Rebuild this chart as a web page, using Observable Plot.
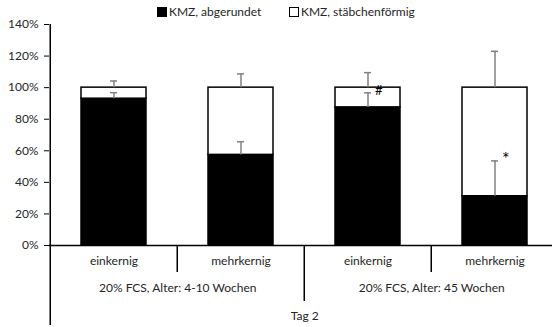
<!DOCTYPE html>
<html>
<head>
<meta charset="utf-8">
<script src="https://cdn.jsdelivr.net/npm/d3@7"></script>
<script src="https://cdn.jsdelivr.net/npm/@observablehq/plot@0.6"></script>
<style>
  body { margin: 0; background: #fff; font-family: Lato, "Open Sans", sans-serif; }
  #legend { height: 18px; position: relative; font-size: 12px; color: #262626; white-space: nowrap; }
  #legend .item { position: absolute; top: 6px; line-height: 12px; }
  #legend .sw { display: inline-block; width: 8px; height: 8px; border: 1.5px solid #000; vertical-align: -1px; margin-right: 2px; }
</style>
</head>
<body>
<div id="legend"></div>
<div id="chart"></div>
<script>
// ---- data ----
const groups = ["20% FCS, Alter: 4-10 Wochen", "20% FCS, Alter: 45 Wochen"];
const kernLabels = ["einkernig", "mehrkernig", "einkernig", "mehrkernig"];
const categories = ["g1-ein", "g1-mehr", "g2-ein", "g2-mehr"];
const categoryGroup = [0, 0, 1, 1];
const seriesNames = ["KMZ, abgerundet", "KMZ, stäbchenförmig"];
const abgerundet = [93, 57.4, 87.5, 31.2];          // black part (%)
const errAbgerundet = [3.8, 8.3, 9.2, 22.4];        // + error of black part
const errStaebchen = [4.2, 8.7, 9.5, 23];           // + error on top of 100%
const annotations = [{cat: "g2-ein", label: "#"}, {cat: "g2-mehr", label: "*"}];
const yTicks = [0, 20, 40, 60, 80, 100, 120, 140];
const xTitle = "Tag 2";

// ---- derived tables ----
const stacked = [];
categories.forEach((c, i) => {
  stacked.push({cat: c, series: seriesNames[0], y1: 0, y2: abgerundet[i]});
  stacked.push({cat: c, series: seriesNames[1], y1: abgerundet[i], y2: 100});
});
const errors = [];
categories.forEach((c, i) => {
  errors.push({cat: c, from: abgerundet[i], to: abgerundet[i] + errAbgerundet[i]});
  errors.push({cat: c, from: 100, to: 100 + errStaebchen[i]});
});
const annot = annotations.map(a => {
  const i = categories.indexOf(a.cat);
  return {cat: a.cat, y: abgerundet[i] + errAbgerundet[i], label: a.label};
});
const kernRows = categories.map((c, i) => ({cat: c, label: kernLabels[i]}));
const groupRows = groups.map((g, gi) => ({cat: categories[categoryGroup.indexOf(gi)], label: g}));
const titleRows = [{cat: categories[1], label: xTitle}];
const catBoundaries = categories.filter((c, i) => i > 0 && categoryGroup[i] === categoryGroup[i - 1]);
const groupBoundaries = categories.filter((c, i) => i > 0 && categoryGroup[i] !== categoryGroup[i - 1]);

// ---- legend ----
const legend = document.getElementById("legend");
const legendPos = [157, 289];
seriesNames.forEach((s, i) => {
  const d = document.createElement("span");
  d.className = "item";
  d.style.left = legendPos[i] + "px";
  d.innerHTML = `<span class="sw" style="background:${i === 0 ? "#000" : "#fff"}"></span>${s}`;
  legend.appendChild(d);
});

// ---- chart ----
const xOpts = {type: "band", domain: categories, range: [49, 559], paddingInner: 0.49, paddingOuter: 0.245, align: 0.5};
const xs = Plot.scale({x: xOpts});
const half = xs.step / 2;
const bw = xs.bandwidth;
const txt = "#262626";
const errColor = "#808080";

const chart = Plot.plot({
  width: 552,
  height: 309,
  marginTop: 6,
  marginBottom: 82,
  marginLeft: 49,
  marginRight: 0,
  style: {fontFamily: "Lato, 'Open Sans', sans-serif", fontSize: "12px", color: txt, overflow: "visible"},
  x: {...xOpts, axis: null},
  y: {domain: [0, 140], axis: null},
  marks: [
    Plot.barY(stacked, {x: "cat", y1: "y1", y2: "y2", fill: d => d.series === seriesNames[0] ? "#000" : "#fff", stroke: "#000", strokeWidth: 1.5}),
    Plot.ruleX(errors, {x: "cat", y1: "from", y2: "to", stroke: errColor, strokeWidth: 1.5}),
    Plot.tickY(errors, {x: "cat", y: "to", stroke: errColor, strokeWidth: 1.5, insetLeft: bw / 2 - 3.5, insetRight: bw / 2 - 3.5}),
    Plot.text(annot, {x: "cat", y: "y", text: "label", dx: 7, dy: -2, fontSize: d => d.label === "*" ? 18 : 13, fontWeight: d => d.label === "*" ? "bold" : "normal", fill: "#000", textAnchor: "start", lineAnchor: "middle"}),
    // y axis
    Plot.axisY({ticks: yTicks, tickFormat: d => d + "%", tickSize: 5, tickPadding: 6, stroke: "#000", fill: txt, fontSize: 12}),
    Plot.ruleY([0], {stroke: "#000", strokeWidth: 1.5}),
    // left axis line (extends down through the category rows)
    Plot.ruleX(categories.slice(0, 1), {x: d => d, dx: -half, stroke: "#000", strokeWidth: 1.5, insetBottom: -80}),
    // dividers between categories and groups
    Plot.ruleX(catBoundaries, {x: d => d, dx: -half, stroke: "#000", strokeWidth: 1.5, insetTop: 221, insetBottom: -27}),
    Plot.ruleX(groupBoundaries, {x: d => d, dx: -half, stroke: "#000", strokeWidth: 1.5, insetTop: 221, insetBottom: -56}),
    // category labels
    Plot.text(kernRows, {x: "cat", text: "label", frameAnchor: "bottom", dy: 19, fill: txt, fontSize: 12}),
    Plot.text(groupRows, {x: "cat", text: "label", frameAnchor: "bottom", dx: half, dy: 46, fill: txt, fontSize: 12}),
    Plot.text(titleRows, {x: "cat", text: "label", frameAnchor: "bottom", dx: half, dy: 74, fill: txt, fontSize: 12})
  ]
});
document.getElementById("chart").appendChild(chart);
</script>
</body>
</html>
